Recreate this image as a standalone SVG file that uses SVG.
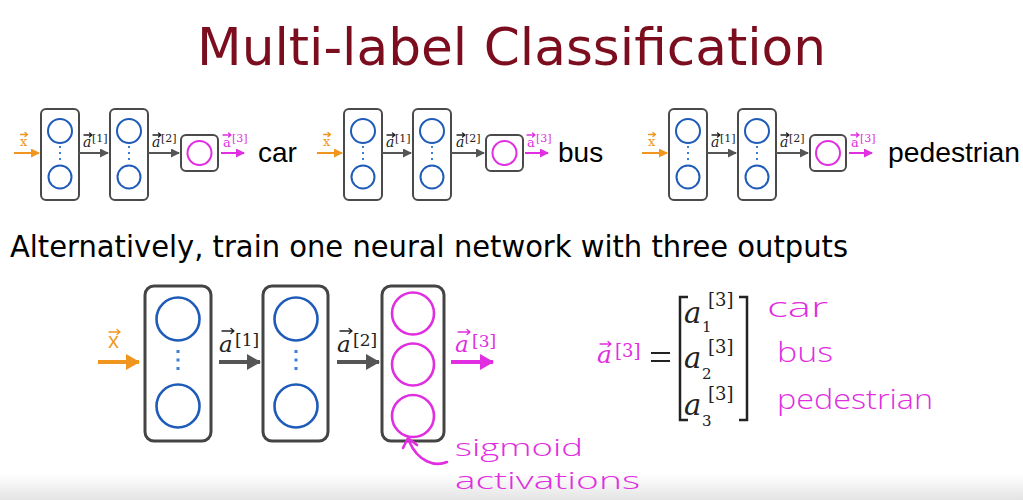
<svg xmlns="http://www.w3.org/2000/svg" width="1023" height="500" viewBox="0 0 1023 500">
<defs>
<style>
.box{fill:#fff;stroke:#4a4a4a;stroke-width:2}
.bigbox{fill:#fff;stroke:#444;stroke-width:3}
.blue{fill:none;stroke:#1f5bb8;stroke-width:2}
.blueL{fill:none;stroke:#1f5bb8;stroke-width:2.6}
.mag{fill:none;stroke:#e02ee0;stroke-width:2}
.magL{fill:none;stroke:#e02ee0;stroke-width:2.6}
.dot{fill:#3b7fd6}
.title{font-family:"DejaVu Sans",sans-serif;fill:#7b0d1e}
.body{font-family:"DejaVu Sans",sans-serif;fill:#000}
.lab{font-family:"Liberation Sans",Arial,sans-serif;fill:#000}
.math{font-family:"DejaVu Serif","Liberation Serif",serif;font-style:italic}
.up{font-family:"DejaVu Serif","Liberation Serif",serif}
.sans{font-family:"Open Sans","DejaVu Sans",sans-serif}
.hand{font-family:"Open Sans","Lato",sans-serif;font-weight:300;fill:#e02ee0}
.vec{fill:none;stroke-width:1.3;stroke-linecap:round;stroke-linejoin:round}
</style>
<marker id="hG" markerUnits="userSpaceOnUse" markerWidth="9" markerHeight="9" refX="8" refY="4.5" orient="auto"><path d="M0,0 L9,4.5 L0,9 Z" fill="#555"/></marker>
<marker id="hO" markerUnits="userSpaceOnUse" markerWidth="9" markerHeight="9" refX="8" refY="4.5" orient="auto"><path d="M0,0 L9,4.5 L0,9 Z" fill="#f0961e"/></marker>
<marker id="hM" markerUnits="userSpaceOnUse" markerWidth="9" markerHeight="9" refX="8" refY="4.5" orient="auto"><path d="M0,0 L9,4.5 L0,9 Z" fill="#e02ee0"/></marker>
<marker id="HG" markerUnits="userSpaceOnUse" markerWidth="14" markerHeight="16" refX="13" refY="8" orient="auto"><path d="M0,0 L14,8 L0,16 Z" fill="#555"/></marker>
<marker id="HO" markerUnits="userSpaceOnUse" markerWidth="14" markerHeight="16" refX="13" refY="8" orient="auto"><path d="M0,0 L14,8 L0,16 Z" fill="#f0961e"/></marker>
<marker id="HM" markerUnits="userSpaceOnUse" markerWidth="14" markerHeight="16" refX="13" refY="8" orient="auto"><path d="M0,0 L14,8 L0,16 Z" fill="#e02ee0"/></marker>
<linearGradient id="bottomFade" x1="0" y1="0" x2="0" y2="1"><stop offset="0" stop-color="#ffffff"/><stop offset="1" stop-color="#e4e4e4"/></linearGradient>
</defs>
<rect width="1023" height="500" fill="#fff"/>
<rect x="0" y="474" width="1023" height="26" fill="url(#bottomFade)"/>

<text class="title" x="197" y="65" font-size="51" textLength="629" lengthAdjust="spacingAndGlyphs">Multi-label Classification</text>

<!-- top row: three small networks -->
<g id="net-car">
  <g id="car-l1"><rect class="box" x="41" y="109" width="38" height="91" rx="5"/><circle class="blue" cx="60" cy="131" r="12"/><circle class="blue" cx="60" cy="177" r="11.5"/><rect class="dot" x="59" y="146" width="2" height="2"/><rect class="dot" x="59" y="152" width="2" height="2"/><rect class="dot" x="59" y="158" width="2" height="2"/></g>
  <g id="car-l2"><rect class="box" x="110" y="109" width="38" height="91" rx="5"/><circle class="blue" cx="129" cy="131" r="12"/><circle class="blue" cx="129" cy="177" r="11.5"/><rect class="dot" x="128" y="146" width="2" height="2"/><rect class="dot" x="128" y="152" width="2" height="2"/><rect class="dot" x="128" y="158" width="2" height="2"/></g>
  <g id="car-l3"><rect class="box" x="181" y="135" width="37" height="36" rx="5"/><circle class="mag" cx="199.5" cy="153" r="12"/></g>
  <text class="lab" x="258" y="162" font-size="28">car</text>
</g>
<g id="net-bus" transform="translate(303,0)">
  <g id="bus-l1"><rect class="box" x="41" y="109" width="38" height="91" rx="5"/><circle class="blue" cx="60" cy="131" r="12"/><circle class="blue" cx="60" cy="177" r="11.5"/><rect class="dot" x="59" y="146" width="2" height="2"/><rect class="dot" x="59" y="152" width="2" height="2"/><rect class="dot" x="59" y="158" width="2" height="2"/></g>
  <g id="bus-l2"><rect class="box" x="110" y="109" width="38" height="91" rx="5"/><circle class="blue" cx="129" cy="131" r="12"/><circle class="blue" cx="129" cy="177" r="11.5"/><rect class="dot" x="128" y="146" width="2" height="2"/><rect class="dot" x="128" y="152" width="2" height="2"/><rect class="dot" x="128" y="158" width="2" height="2"/></g>
  <g id="bus-l3"><rect class="box" x="183" y="135" width="37" height="36" rx="5"/><circle class="mag" cx="201.5" cy="153" r="12"/></g>
  <text class="lab" x="255" y="162" font-size="28">bus</text>
</g>
<g id="net-ped" transform="translate(628,0)">
  <g id="ped-l1"><rect class="box" x="41" y="109" width="38" height="91" rx="5"/><circle class="blue" cx="60" cy="131" r="12"/><circle class="blue" cx="60" cy="177" r="11.5"/><rect class="dot" x="59" y="146" width="2" height="2"/><rect class="dot" x="59" y="152" width="2" height="2"/><rect class="dot" x="59" y="158" width="2" height="2"/></g>
  <g id="ped-l2"><rect class="box" x="110" y="109" width="38" height="91" rx="5"/><circle class="blue" cx="129" cy="131" r="12"/><circle class="blue" cx="129" cy="177" r="11.5"/><rect class="dot" x="128" y="146" width="2" height="2"/><rect class="dot" x="128" y="152" width="2" height="2"/><rect class="dot" x="128" y="158" width="2" height="2"/></g>
  <g id="ped-l3"><rect class="box" x="182" y="135" width="36" height="36" rx="5"/><circle class="mag" cx="200" cy="153" r="12"/></g>
  <text class="lab" x="260" y="162" font-size="28" textLength="132" lengthAdjust="spacingAndGlyphs">pedestrian</text>
</g>

<!-- top row connectors and labels -->
<g id="connectors-top">
  <g id="conn-car">
    <line x1="14" y1="153" x2="39" y2="153" stroke="#f0961e" stroke-width="2" marker-end="url(#hO)"/>
    <text class="up" x="20" y="146" font-size="13" fill="#f0961e">x</text><path class="vec" stroke="#f0961e" d="M20.5 134.5h7m-2.5-2l2.5 2l-2.5 2"/>
    <line x1="79" y1="153" x2="108" y2="153" stroke="#555" stroke-width="2" marker-end="url(#hG)"/>
    <text class="math" x="83" y="147" font-size="14" fill="#222">a</text><path class="vec" stroke="#222" d="M84 135h8m-2.5-2l2.5 2l-2.5 2"/><text class="up" x="92" y="142" font-size="11" fill="#222">[1]</text>
    <line x1="148" y1="153" x2="179" y2="153" stroke="#555" stroke-width="2" marker-end="url(#hG)"/>
    <text class="math" x="152" y="147" font-size="14" fill="#222">a</text><path class="vec" stroke="#222" d="M153 135h8m-2.5-2l2.5 2l-2.5 2"/><text class="up" x="161" y="142" font-size="11" fill="#222">[2]</text>
    <line x1="221" y1="153" x2="244" y2="153" stroke="#e02ee0" stroke-width="2" marker-end="url(#hM)"/>
    <text class="up" x="223" y="147" font-size="13" fill="#e02ee0">a</text><path class="vec" stroke="#e02ee0" d="M223 135h8m-2.5-2l2.5 2l-2.5 2"/><text class="up" x="232" y="142" font-size="11" fill="#e02ee0">[3]</text>
  </g>
  <g id="conn-bus" transform="translate(303,0)">
    <line x1="14" y1="153" x2="39" y2="153" stroke="#f0961e" stroke-width="2" marker-end="url(#hO)"/>
    <text class="up" x="20" y="146" font-size="13" fill="#f0961e">x</text><path class="vec" stroke="#f0961e" d="M20.5 134.5h7m-2.5-2l2.5 2l-2.5 2"/>
    <line x1="79" y1="153" x2="108" y2="153" stroke="#555" stroke-width="2" marker-end="url(#hG)"/>
    <text class="math" x="83" y="147" font-size="14" fill="#222">a</text><path class="vec" stroke="#222" d="M84 135h8m-2.5-2l2.5 2l-2.5 2"/><text class="up" x="92" y="142" font-size="11" fill="#222">[1]</text>
    <line x1="148" y1="153" x2="181" y2="153" stroke="#555" stroke-width="2" marker-end="url(#hG)"/>
    <text class="math" x="153" y="147" font-size="14" fill="#222">a</text><path class="vec" stroke="#222" d="M154 135h8m-2.5-2l2.5 2l-2.5 2"/><text class="up" x="162" y="142" font-size="11" fill="#222">[2]</text>
    <line x1="222" y1="153" x2="245" y2="153" stroke="#e02ee0" stroke-width="2" marker-end="url(#hM)"/>
    <text class="up" x="224" y="147" font-size="13" fill="#e02ee0">a</text><path class="vec" stroke="#e02ee0" d="M224 135h8m-2.5-2l2.5 2l-2.5 2"/><text class="up" x="233" y="142" font-size="11" fill="#e02ee0">[3]</text>
  </g>
  <g id="conn-ped" transform="translate(628,0)">
    <line x1="14" y1="153" x2="39" y2="153" stroke="#f0961e" stroke-width="2" marker-end="url(#hO)"/>
    <text class="up" x="20" y="146" font-size="13" fill="#f0961e">x</text><path class="vec" stroke="#f0961e" d="M20.5 134.5h7m-2.5-2l2.5 2l-2.5 2"/>
    <line x1="79" y1="153" x2="108" y2="153" stroke="#555" stroke-width="2" marker-end="url(#hG)"/>
    <text class="math" x="83" y="147" font-size="14" fill="#222">a</text><path class="vec" stroke="#222" d="M84 135h8m-2.5-2l2.5 2l-2.5 2"/><text class="up" x="92" y="142" font-size="11" fill="#222">[1]</text>
    <line x1="148" y1="153" x2="180" y2="153" stroke="#555" stroke-width="2" marker-end="url(#hG)"/>
    <text class="math" x="152" y="147" font-size="14" fill="#222">a</text><path class="vec" stroke="#222" d="M153 135h8m-2.5-2l2.5 2l-2.5 2"/><text class="up" x="161" y="142" font-size="11" fill="#222">[2]</text>
    <line x1="221" y1="153" x2="244" y2="153" stroke="#e02ee0" stroke-width="2" marker-end="url(#hM)"/>
    <text class="up" x="223" y="147" font-size="13" fill="#e02ee0">a</text><path class="vec" stroke="#e02ee0" d="M223 135h8m-2.5-2l2.5 2l-2.5 2"/><text class="up" x="232" y="142" font-size="11" fill="#e02ee0">[3]</text>
  </g>
</g>

<text class="body" x="10" y="257" font-size="30" textLength="838" lengthAdjust="spacingAndGlyphs">Alternatively, train one neural network with three outputs</text>

<!-- bottom network -->
<g id="big-l1"><rect class="bigbox" x="145" y="286" width="66" height="155" rx="9"/><circle class="blueL" cx="178" cy="319" r="21.5"/><circle class="blueL" cx="178" cy="406" r="21.5"/><rect class="dot" x="176.5" y="350" width="3" height="3"/><rect class="dot" x="176.5" y="358.5" width="3" height="3"/><rect class="dot" x="176.5" y="367" width="3" height="3"/></g>
<g id="big-l2"><rect class="bigbox" x="263" y="286" width="65" height="155" rx="9"/><circle class="blueL" cx="296" cy="319" r="21.5"/><circle class="blueL" cx="296" cy="406" r="21.5"/><rect class="dot" x="294.5" y="350" width="3" height="3"/><rect class="dot" x="294.5" y="358.5" width="3" height="3"/><rect class="dot" x="294.5" y="367" width="3" height="3"/></g>
<g id="big-l3"><rect class="bigbox" x="382" y="286" width="62" height="155" rx="9"/><circle class="magL" cx="413" cy="313.5" r="21"/><circle class="magL" cx="413" cy="364.5" r="21"/><circle class="magL" cx="413" cy="416" r="21"/></g>

<g id="connectors-bottom">
  <line x1="98" y1="362" x2="139" y2="362" stroke="#f0961e" stroke-width="4" marker-end="url(#HO)"/>
  <text class="sans" x="108" y="348" font-size="21" fill="#f0961e">x</text><path class="vec" stroke="#f0961e" stroke-width="1.8" d="M109 332h11m-3-2.5l3 2.5l-3 2.5"/>
  <line x1="219" y1="362" x2="260" y2="362" stroke="#555" stroke-width="4" marker-end="url(#HG)"/>
  <text class="math" x="219" y="352" font-size="23" fill="#222">a</text><path class="vec" stroke="#222" stroke-width="1.8" d="M222 331h12m-3-2.5l3 2.5l-3 2.5"/><text class="up" x="235" y="346" font-size="17" fill="#222">[1]</text>
  <line x1="337" y1="362" x2="379" y2="362" stroke="#555" stroke-width="4" marker-end="url(#HG)"/>
  <text class="math" x="337" y="352" font-size="23" fill="#222">a</text><path class="vec" stroke="#222" stroke-width="1.8" d="M340 331h12m-3-2.5l3 2.5l-3 2.5"/><text class="up" x="353" y="346" font-size="17" fill="#222">[2]</text>
  <line x1="451" y1="362" x2="493" y2="362" stroke="#e02ee0" stroke-width="4" marker-end="url(#HM)"/>
  <text class="math" x="455" y="352" font-size="23" fill="#e02ee0">a</text><path class="vec" stroke="#e02ee0" stroke-width="1.8" d="M458 332h12m-3-2.5l3 2.5l-3 2.5"/><text class="up" x="472" y="347" font-size="17" fill="#e02ee0">[3]</text>
  <path d="M447 462 C435 467 418 462 409 441" fill="none" stroke="#e02ee0" stroke-width="2.6" stroke-linecap="round"/>
  <path d="M403 448 L408 438 L417 445" fill="none" stroke="#e02ee0" stroke-width="2.6" stroke-linecap="round" stroke-linejoin="round"/>
</g>

<text class="hand" x="455" y="456" font-size="23" textLength="128" lengthAdjust="spacingAndGlyphs">sigmoid</text>
<text class="hand" x="455" y="489" font-size="23" textLength="185" lengthAdjust="spacingAndGlyphs">activations</text>

<!-- vector equation -->
<g id="equation">
  <text class="math" x="597" y="363" font-size="25" fill="#e02ee0">a</text><path class="vec" stroke="#e02ee0" stroke-width="1.8" d="M600 344h11m-3-2.5l3 2.5l-3 2.5"/><text class="up" x="615" y="357" font-size="18" fill="#e02ee0">[3]</text>
  <path d="M651 353h19M651 361h19" stroke="#222" stroke-width="2.2"/>
  <path d="M688 297h-8v123h8M739 297h8v123h-8" fill="none" stroke="#222" stroke-width="2.5"/>
  <text class="math" x="684" y="323" font-size="29" fill="#222">a</text><text class="up" x="708" y="306" font-size="18" fill="#222">[3]</text><text class="up" x="702" y="332" font-size="15" fill="#222">1</text>
  <text class="math" x="684" y="368" font-size="29" fill="#222">a</text><text class="up" x="708" y="353" font-size="18" fill="#222">[3]</text><text class="up" x="702" y="379" font-size="15" fill="#222">2</text>
  <text class="math" x="684" y="415" font-size="29" fill="#222">a</text><text class="up" x="708" y="400" font-size="18" fill="#222">[3]</text><text class="up" x="702" y="426" font-size="15" fill="#222">3</text>
</g>
<text class="hand" x="767" y="317" font-size="27" textLength="61" lengthAdjust="spacingAndGlyphs">car</text>
<text class="hand" x="777" y="362" font-size="27" textLength="56" lengthAdjust="spacingAndGlyphs">bus</text>
<text class="hand" x="777" y="409" font-size="27" textLength="156" lengthAdjust="spacingAndGlyphs">pedestrian</text>
</svg>
